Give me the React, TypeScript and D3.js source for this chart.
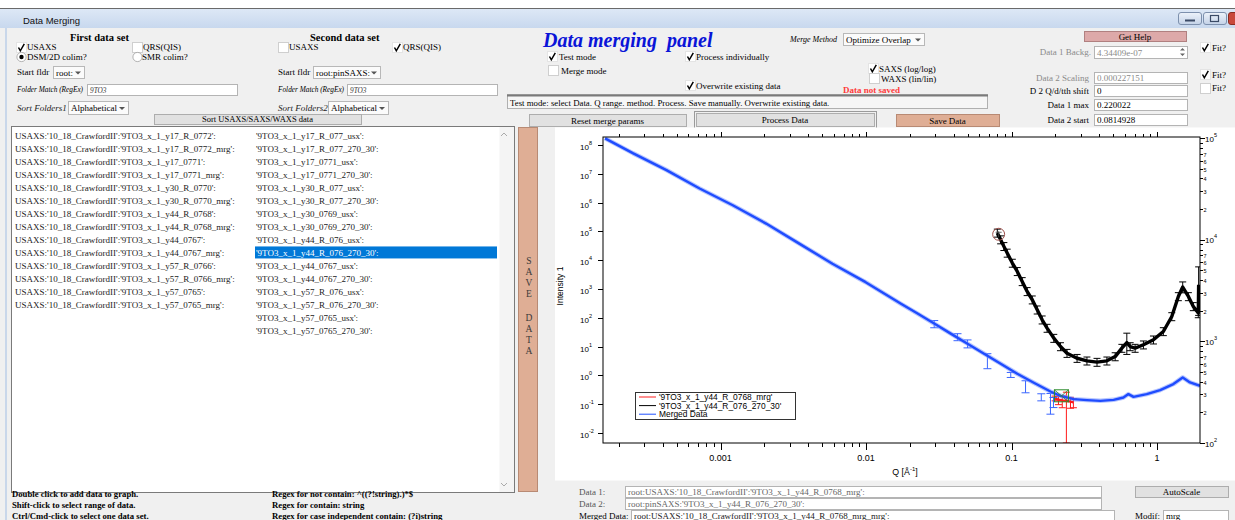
import React from 'react';
import * as d3 from 'd3';

const SERIF = "'Liberation Serif','Times New Roman',serif";
const SANS = "'Liberation Sans',Arial,sans-serif";

// ---------------- data ----------------
const list1 = [
  "USAXS:'10_18_CrawfordII':'9TO3_x_1_y17_R_0772':",
  "USAXS:'10_18_CrawfordII':'9TO3_x_1_y17_R_0772_mrg':",
  "USAXS:'10_18_CrawfordII':'9TO3_x_1_y17_0771':",
  "USAXS:'10_18_CrawfordII':'9TO3_x_1_y17_0771_mrg':",
  "USAXS:'10_18_CrawfordII':'9TO3_x_1_y30_R_0770':",
  "USAXS:'10_18_CrawfordII':'9TO3_x_1_y30_R_0770_mrg':",
  "USAXS:'10_18_CrawfordII':'9TO3_x_1_y44_R_0768':",
  "USAXS:'10_18_CrawfordII':'9TO3_x_1_y44_R_0768_mrg':",
  "USAXS:'10_18_CrawfordII':'9TO3_x_1_y44_0767':",
  "USAXS:'10_18_CrawfordII':'9TO3_x_1_y44_0767_mrg':",
  "USAXS:'10_18_CrawfordII':'9TO3_x_1_y57_R_0766':",
  "USAXS:'10_18_CrawfordII':'9TO3_x_1_y57_R_0766_mrg':",
  "USAXS:'10_18_CrawfordII':'9TO3_x_1_y57_0765':",
  "USAXS:'10_18_CrawfordII':'9TO3_x_1_y57_0765_mrg':",
];
const list2 = [
  "'9TO3_x_1_y17_R_077_usx':",
  "'9TO3_x_1_y17_R_077_270_30':",
  "'9TO3_x_1_y17_0771_usx':",
  "'9TO3_x_1_y17_0771_270_30':",
  "'9TO3_x_1_y30_R_077_usx':",
  "'9TO3_x_1_y30_R_077_270_30':",
  "'9TO3_x_1_y30_0769_usx':",
  "'9TO3_x_1_y30_0769_270_30':",
  "'9TO3_x_1_y44_R_076_usx':",
  "'9TO3_x_1_y44_R_076_270_30':",
  "'9TO3_x_1_y44_0767_usx':",
  "'9TO3_x_1_y44_0767_270_30':",
  "'9TO3_x_1_y57_R_076_usx':",
  "'9TO3_x_1_y57_R_076_270_30':",
  "'9TO3_x_1_y57_0765_usx':",
  "'9TO3_x_1_y57_0765_270_30':",
];
const selected2 = 9;

const helpLeft = [
  "Double click to add data to graph.",
  "Shift-click to select range of data.",
  "Ctrl/Cmd-click to select one data set.",
];
const helpRight = [
  "Regex for not contain: ^((?!string).)*$",
  "Regex for contain:  string",
  "Regex for case independent contain:  (?i)string",
];

// merged data (blue, left axis)
const mergedQ = [1.607e-4, 2.512e-4, 4.246e-4, 7.178e-4, 1.213e-3, 2.056e-3, 3.475e-3, 5.875e-3, 9.931e-3, 0.01738, 0.02259, 0.02938, 0.03819, 0.04977, 0.06471, 0.08414, 0.1094, 0.1422, 0.1849, 0.2168, 0.2673, 0.3296, 0.4074, 0.5023, 0.5875, 0.6353, 0.6887, 0.8492, 1.05, 1.294, 1.5, 1.683, 1.972];
const mergedI = [1.71e8, 5.14e7, 1.35e7, 3.1e6, 8.11e5, 1.87e5, 3.76e4, 7551, 1726, 304.8, 140, 62.8, 28.1, 12.6, 5.66, 2.54, 1.14, 0.552, 0.275, 0.195, 0.149, 0.138, 0.13, 0.141, 0.17, 0.223, 0.179, 0.223, 0.308, 0.498, 0.845, 0.566, 0.435];
const mergedErrQ = [0.0294, 0.0425, 0.0498, 0.0682, 0.0987, 0.1247, 0.16, 0.185, 0.194];
const mergedErrLo = [45, 16, 9, 1.7, 0.845, 0.248, 0.13, 0.0448, 0.076];
const mergedErrHi = [80, 28, 17, 5.66, 1.26, 0.649, 0.229, 0.234, 0.17];

// data 1 (red, left axis)
const data1Q = [0.199, 0.21, 0.223, 0.238, 0.254, 0.266];
const data1I = [0.16, 0.141, 0.135, 0.132, 0.122, 0.115];
const data1Err = [0.03, 0.045, 0.06, 0.128, 0.05, 0.04];

// data 2 (black, right axis)
const data2Q = [0.0798, 0.0841, 0.0885, 0.0933, 0.1012, 0.1094, 0.1183, 0.1279, 0.1387, 0.15, 0.1622, 0.1754, 0.195, 0.2168, 0.2404, 0.2818, 0.3296, 0.3864, 0.4519, 0.5152, 0.5728, 0.6194, 0.6531, 0.7063, 0.8054, 0.9441, 1.104, 1.262, 1.4, 1.5, 1.641, 1.774, 1.919, 1.93];
const data2I = [11640, 10000, 8590, 7396, 5888, 4875, 3882, 3097, 2564, 2042, 1629, 1349, 1074, 889, 764, 682, 643, 624, 643, 708, 857, 973, 889, 857, 925, 1035, 1250, 1754, 2761, 3420, 2761, 2203, 1897, 3600];
const data2Err = [1050, 900, 770, 670, 530, 440, 350, 280, 230, 185, 147, 121, 97, 80, 69, 61, 58, 56, 58, 64, 77, 230, 80, 77, 83, 93, 112, 158, 250, 420, 250, 200, 190, 1800];

// cursors (A on data 2 start, B on data 1 max)
const cursorAQ = 0.0814928;
const cursorAI = 11300;
const cursorBQ = 0.220022;
const cursorBI = 0.195;

const legendNames = ["'9TO3_x_1_y44_R_0768_mrg'", "'9TO3_x_1_y44_R_076_270_30'", "Merged Data"];
const legendColors = ['#ff2020', '#000000', '#2050ff'];

const xTickValues = [0.001, 0.01, 0.1, 1];
const xTickLabels = ['0.001', '0.01', '0.1', '1'];
const leftExps = [-2, -1, 0, 1, 2, 3, 4, 5, 6, 7, 8];
const rightExps = [2, 3, 4, 5];

const xDomain = [1.556e-4, 1.972];
const yLeftDomain = [4.467e-3, 1.905e8];
const yRightDomain = [100, 1.023e5];

// ---------------- helpers ----------------
const T = ({ x, y, s = 9, b = false, it = false, c = '#000', a = 'start', f = SERIF, children }: any) => (
  <text x={x} y={y} dy="0.35em" fontSize={s} fontWeight={b ? 'bold' : 'normal'} fontStyle={it ? 'italic' : 'normal'}
    fill={c} textAnchor={a} fontFamily={f}>{children}</text>
);

const Check = ({ x, y, on }: any) => (
  <g>
    <rect x={x + 0.5} y={y + 0.5} width={10} height={10} fill="#fff" stroke={on ? '#e4e4e4' : '#cfcfcf'} />
    {on && <path d={`M${x + 2.5} ${y + 5.5} L${x + 4.3} ${y + 8.8} L${x + 8.3} ${y + 1.8}`} fill="none" stroke="#000" strokeWidth={1.5} />}
  </g>
);

const Radio = ({ cx, cy, on }: any) => (
  <g>
    <circle cx={cx} cy={cy} r={4.6} fill="#fff" stroke="#a0a0a0" strokeWidth={0.8} />
    {on && <circle cx={cx} cy={cy} r={2.2} fill="#000" />}
  </g>
);

const Drop = ({ x, y, w, h = 12, text }: any) => (
  <g>
    <rect x={x + 0.5} y={y + 0.5} width={w} height={h} fill="#fbfbfb" stroke="#b8b8b8" />
    <T x={x + 3} y={y + h / 2 + 0.5}>{text}</T>
    <path d={`M${x + w - 9} ${y + h / 2 - 0.5} h6 l-3 3 z`} fill="#555" />
  </g>
);

const Box = ({ x, y, w, h, text, c = '#000', s = 9, it = false }: any) => (
  <g>
    <rect x={x + 0.5} y={y + 0.5} width={w} height={h} fill="#fff" stroke="#b4b4b4" />
    <T x={x + 3} y={y + h / 2 + 0.5} c={c} s={s} it={it}>{text}</T>
  </g>
);

const Btn = ({ x, y, w, h, text, fill = '#e1e1e1', stroke = '#adadad', dotted = false, s = 9 }: any) => (
  <g>
    <rect x={x + 0.5} y={y + 0.5} width={w} height={h} fill={fill} stroke={stroke} />
    {dotted && <rect x={x - 1.5} y={y - 1.5} width={w + 4} height={h + 4} fill="none" stroke="#444" strokeDasharray="1,1" />}
    <T x={x + w / 2} y={y + h / 2 + 0.5} a="middle" s={s}>{text}</T>
  </g>
);

const isMajor = (v: number) => Math.abs(Math.log10(v) - Math.round(Math.log10(v))) < 1e-6;

export default function App() {
  const x = d3.scaleLog().domain(xDomain).range([603, 1200]);
  const yL = d3.scaleLog().domain(yLeftDomain).range([443, 137]);
  const yR = d3.scaleLog().domain(yRightDomain).range([443, 137]);
  const clampY = (v: number) => Math.max(137, Math.min(443, v));
  const yLs = (v: number) => (v <= 0 ? 443 : clampY(yL(v)));
  const yRs = (v: number) => (v <= 0 ? 443 : clampY(yR(v)));

  const line = d3.line<[number, number]>().x(d => d[0]).y(d => d[1]);
  const mergedPath = line(mergedQ.map((q, i) => [x(q), yL(mergedI[i])]))!;
  const data1Path = line(data1Q.map((q, i) => [x(q), yL(data1I[i])]))!;
  const data2Path = line(data2Q.map((q, i) => [x(q), yR(data2I[i])]))!;

  const xTicks = x.ticks();
  const rTicks = yR.ticks();

  const rowY = (i: number) => 135.5 + i * 13.05;

  return (
    <svg width={1235} height={520} style={{ position: 'absolute', left: 0, top: 0, display: 'block' }}
      xmlns="http://www.w3.org/2000/svg">
      <defs>
        <linearGradient id="tb" x1="0" y1="0" x2="0" y2="1">
          <stop offset="0" stopColor="#dde8f6" />
          <stop offset="1" stopColor="#c8d8ee" />
        </linearGradient>
        <linearGradient id="wb" x1="0" y1="0" x2="0" y2="1">
          <stop offset="0" stopColor="#eef3fa" />
          <stop offset="1" stopColor="#c3d2e8" />
        </linearGradient>
        <clipPath id="plotclip"><rect x={603} y={137} width={597} height={306} /></clipPath>
      </defs>

      {/* page + window */}
      <rect x={0} y={0} width={1235} height={520} fill="#ffffff" />
      <rect x={0} y={9} width={1235} height={19} fill="url(#tb)" />
      <line x1={0} y1={8.5} x2={1235} y2={8.5} stroke="#6a6a6a" />
      <T x={23} y={21} s={9.5} f={SANS} c="#111">Data Merging</T>
      <rect x={1178.5} y={12.5} width={23} height={12} rx={2.5} fill="url(#wb)" stroke="#7d90ad" />
      <rect x={1185} y={19.5} width={10} height={2} fill="#3a4a66" />
      <rect x={1203.5} y={12.5} width={23} height={12} rx={2.5} fill="url(#wb)" stroke="#7d90ad" />
      <rect x={1210.5} y={15.5} width={8} height={6} fill="none" stroke="#3a4a66" strokeWidth={1.2} />
      <rect x={1228.5} y={12.5} width={14} height={12} rx={2.5} fill="#c9483b" stroke="#8a2c22" />

      <rect x={0} y={28} width={1235} height={492} fill="#f0f0f0" />
      <line x1={6} y1={28} x2={6} y2={520} stroke="#c9d7ea" strokeWidth={2} />

      {/* ---- first data set ---- */}
      <T x={70} y={37} s={10.5} b>First data set</T>
      <Check x={16} y={42} on />
      <T x={27} y={47}>USAXS</T>
      <Check x={132} y={42} on={false} />
      <T x={143} y={47}>QRS(QIS)</T>
      <Radio cx={21.5} cy={57} on />
      <T x={27} y={57}>DSM/2D colim?</T>
      <Radio cx={137.5} cy={57} on={false} />
      <T x={142} y={57}>SMR colim?</T>
      <T x={17} y={72}>Start fldr</T>
      <Drop x={53} y={66} w={31} text="root:" />
      <T x={17} y={89.5} s={7.3} it>Folder Match (RegEx)</T>
      <Box x={87} y={84} w={150} h={11} text="9TO3" s={7.3} it c="#333" />
      <T x={17} y={108} it c="#222">Sort Folders1</T>
      <Drop x={68} y={101} w={60} h={13} text="Alphabetical" />

      {/* ---- second data set ---- */}
      <T x={310} y={37} s={10.5} b>Second data set</T>
      <Check x={278} y={42} on={false} />
      <T x={289} y={47}>USAXS</T>
      <Check x={392} y={42} on />
      <T x={403} y={47}>QRS(QIS)</T>
      <T x={278} y={72}>Start fldr</T>
      <Drop x={313} y={66} w={67} text="root:pinSAXS:" />
      <T x={278} y={89.5} s={7.3} it>Folder Match (RegEx)</T>
      <Box x={347} y={84} w={150} h={11} text="9TO3" s={7.3} it c="#333" />
      <T x={278} y={108} it c="#222">Sort Folders2</T>
      <Drop x={328} y={101} w={60} h={13} text="Alphabetical" />

      <Btn x={154} y={114} w={207} h={10} text="Sort USAXS/SAXS/WAXS data" s={8.5} />

      {/* ---- list box ---- */}
      <rect x={11.5} y={126.5} width={503} height={366} fill="#fff" stroke="#7a7a7a" />
      <rect x={499.5} y={127} width={14.5} height={365} fill="#f4f4f4" />
      <path d="M501 136 l3 -3 l3 3" fill="none" stroke="#aaa" />
      <path d="M501 483 l3 3 l3 -3" fill="none" stroke="#aaa" />
      {list1.map((s, i) => <T key={'l1' + i} x={15} y={rowY(i)} c="#1a1a1a">{s}</T>)}
      <rect x={255} y={rowY(selected2) - 6.5} width={242} height={12} fill="#0078d7" />
      {list2.map((s, i) => <T key={'l2' + i} x={256} y={rowY(i)} c={i === selected2 ? '#fff' : '#1a1a1a'}>{s}</T>)}

      {helpLeft.map((s, i) => <T key={'hl' + i} x={12} y={494 + i * 11} b s={8.7}>{s}</T>)}
      {helpRight.map((s, i) => <T key={'hr' + i} x={272} y={494 + i * 11} b s={8.7}>{s}</T>)}

      {/* ---- vertical save bar ---- */}
      <rect x={518.5} y={127.5} width={19} height={364} fill="#dfae95" stroke="#b88a74" />
      {['S', 'A', 'V', 'E'].map((ch, i) => <T key={'s' + i} x={529} y={261 + i * 11} a="middle" s={9.5} c="#3a3a3a">{ch}</T>)}
      {['D', 'A', 'T', 'A'].map((ch, i) => <T key={'d' + i} x={529} y={318 + i * 11} a="middle" s={9.5} c="#3a3a3a">{ch}</T>)}

      {/* ---- centre controls ---- */}
      <text x={543} y={47} fontSize={20} fontWeight="bold" fontStyle="italic" fill="#0a14d8" fontFamily={SERIF}>{'Data merging\u00a0 panel'}</text>
      <Check x={547} y={51} on />
      <T x={559} y={56.5}>Test mode</T>
      <Check x={548} y={65} on={false} />
      <T x={561} y={71}>Merge mode</T>
      <Check x={685} y={51} on />
      <T x={696} y={56.5}>Process individually</T>
      <Check x={685} y={80} on />
      <T x={696} y={85.5}>Overwrite existing data</T>
      <T x={790} y={39.5} s={8} it>Merge Method</T>
      <Drop x={843} y={33} w={81} text="Optimize Overlap" />
      <Check x={868} y={63} on />
      <T x={879} y={69}>SAXS (log/log)</T>
      <Check x={869} y={73} on={false} />
      <T x={881} y={78.5}>WAXS (lin/lin)</T>
      <T x={843} y={90} b c="#ff3a3a">Data not saved</T>
      <rect x={507.5} y={94.5} width={480} height={14} fill="#f6f6f6" stroke="#b0b0b0" />
      <line x1={507} y1={95.5} x2={988} y2={95.5} stroke="#7a7a7a" strokeWidth={2} />
      <T x={510} y={102.5} s={8.8}>Test mode: select Data. Q range. method. Process. Save manually. Overwrite existing data.</T>
      <Btn x={529} y={114} w={157} h={12} text="Reset merge params" />
      <Btn x={696} y={113} w={178} h={13} text="Process Data" dotted />
      <Btn x={896} y={114} w={103} h={12} text="Save Data" fill="#dfae95" stroke="#b88a74" />

      {/* ---- right controls ---- */}
      <Btn x={1084} y={31} w={102} h={10} text="Get Help" fill="#dda9a9" stroke="#b08080" />
      <T x={1091} y={52} a="end" c="#8a8a8a">Data 1 Backg.</T>
      <Box x={1094} y={46} w={93} h={12} text="4.34409e-07" c="#8a8a8a" />
      <path d="M1180 50.5 l2.5 -2.5 l2.5 2.5 z M1180 53.5 l2.5 2.5 l2.5 -2.5 z" fill="#666" />
      <Check x={1200} y={42} on />
      <T x={1212} y={48}>Fit?</T>
      <T x={1089} y={78} a="end" c="#8a8a8a">Data 2 Scaling</T>
      <Box x={1094} y={72} w={93} h={11} text="0.000227151" c="#8a8a8a" />
      <Check x={1200} y={69} on />
      <T x={1212} y={75}>Fit?</T>
      <T x={1089} y={91} a="end">D 2 Q/d/tth shift</T>
      <Box x={1094} y={85} w={93} h={11} text="0" />
      <Check x={1200} y={83} on={false} />
      <T x={1212} y={88}>Fit?</T>
      <T x={1089} y={104.5} a="end">Data 1 max</T>
      <Box x={1094} y={99} w={93} h={11} text="0.220022" />
      <T x={1089} y={119.5} a="end">Data 2 start</T>
      <Box x={1094} y={114} w={93} h={11} text="0.0814928" />

      {/* ---- graph ---- */}
      <rect x={555} y={127.5} width={680} height={353} fill="#fff" />

      <g clipPath="url(#plotclip)">
        {/* data 2 black */}
        <path d={data2Path} fill="none" stroke="#000" strokeWidth={3.4} strokeLinejoin="round" />
        {data2Q.map((q, i) => {
          const xx = x(q), y1 = yRs(data2I[i] + data2Err[i]), y2 = yRs(data2I[i] - data2Err[i]);
          return <g key={'e2' + i} stroke="#000" strokeWidth={1}>
            <line x1={xx} x2={xx} y1={y1} y2={y2} />
            <line x1={xx - 3.5} x2={xx + 3.5} y1={y1} y2={y1} />
            <line x1={xx - 3.5} x2={xx + 3.5} y1={y2} y2={y2} />
          </g>;
        })}
        {/* data 1 red */}
        {data1Q.map((q, i) => {
          const xx = x(q), y1 = yLs(data1I[i] + data1Err[i]), y2 = yLs(data1I[i] - data1Err[i]);
          return <g key={'e1' + i} stroke="#ff1a1a" strokeWidth={1}>
            <line x1={xx} x2={xx} y1={y1} y2={y2} />
            <line x1={xx - 3.5} x2={xx + 3.5} y1={y1} y2={y1} />
            <line x1={xx - 3.5} x2={xx + 3.5} y1={y2} y2={y2} />
          </g>;
        })}
        <path d={data1Path} fill="none" stroke="#ff1a1a" strokeWidth={2.5} />
        {/* merged blue */}
        {mergedErrQ.map((q, i) => {
          const xx = x(q), y1 = yLs(mergedErrHi[i]), y2 = yLs(mergedErrLo[i]);
          return <g key={'em' + i} stroke="#3a66ff" strokeWidth={1}>
            <line x1={xx} x2={xx} y1={y1} y2={y2} />
            <line x1={xx - 4} x2={xx + 4} y1={y1} y2={y1} />
            <line x1={xx - 4} x2={xx + 4} y1={y2} y2={y2} />
          </g>;
        })}
        <path d={mergedPath} fill="none" stroke="#7c98ff" strokeOpacity={0.55} strokeWidth={4.5} strokeLinejoin="round" />
        <path d={mergedPath} fill="none" stroke="#1f4cff" strokeWidth={2.4} strokeLinejoin="round" />
        {/* cursors */}
        <circle cx={x(cursorAQ)} cy={yR(cursorAI)} r={6} fill="none" stroke="#a0524e" strokeWidth={1} />
        <path d={`M${x(cursorAQ) - 3} ${yR(cursorAI) - 2} h6 M${x(cursorAQ)} ${yR(cursorAI) - 3} v6`} stroke="#444" strokeWidth={0.8} />
        <rect x={x(cursorBQ) - 7} y={yL(cursorBI) - 6} width={14} height={12} fill="none" stroke="#2a8a2a" strokeWidth={1} />
        <path d={`M${x(cursorBQ) - 7} ${yL(cursorBI) - 6} L${x(cursorBQ) + 7} ${yL(cursorBI) + 6} M${x(cursorBQ) + 7} ${yL(cursorBI) - 6} L${x(cursorBQ) - 1} ${yL(cursorBI) + 1}`} stroke="#2a8a2a" strokeWidth={0.8} />
      </g>

      {/* frame */}
      <rect x={603} y={137} width={597} height={306} fill="none" stroke="#000" strokeWidth={1} />

      {/* bottom & top ticks */}
      {xTicks.map((v, i) => {
        const xx = Math.round(x(v)) + 0.5;
        const maj = isMajor(v);
        return <g key={'xt' + i} stroke="#000">
          <line x1={xx} x2={xx} y1={443} y2={443 + (maj ? 7 : 4)} />
          <line x1={xx} x2={xx} y1={137} y2={137 - (maj ? 5 : 3)} />
        </g>;
      })}
      {xTickValues.map((v, i) => <T key={'xl' + i} x={x(v)} y={458} a="middle" f={SANS} s={9}>{xTickLabels[i]}</T>)}
      <text x={905} y={475} textAnchor="middle" fontFamily={SANS} fontSize={8.8}>Q [Å<tspan dy={-4} fontSize={6}>-1</tspan><tspan dy={4}>]</tspan></text>

      {/* left axis */}
      {leftExps.map(e => {
        const yy = Math.round(yL(Math.pow(10, e))) + 0.5;
        return <g key={'yl' + e}>
          <line x1={598} x2={603} y1={yy} y2={yy} stroke="#000" />
          <text x={580} y={yy + 4} fontFamily={SANS} fontSize={8}>10<tspan dy={-5} fontSize={5.5}>{e}</tspan></text>
        </g>;
      })}
      <text transform="translate(563,286) rotate(-90)" textAnchor="middle" fontFamily={SANS} fontSize={8.5}>Intensity 1</text>

      {/* right axis */}
      {rTicks.map((v, i) => {
        const yy = Math.round(yR(v)) + 0.5;
        const maj = isMajor(v);
        const k = Math.round(v / Math.pow(10, Math.floor(Math.log10(v) + 1e-9)));
        return <g key={'yr' + i}>
          <line x1={1200} x2={1200 + (maj ? 5 : 3)} y1={yy} y2={yy} stroke="#000" />
          {!maj && k <= 7 && <text x={1203.5} y={yy + 2} fontFamily={SANS} fontSize={5.5}>{k}</text>}
        </g>;
      })}
      {rightExps.map(e => {
        const yy = yR(Math.pow(10, e));
        return <text key={'rl' + e} x={1205} y={yy + 3.5} fontFamily={SANS} fontSize={8}>10<tspan dy={-5} fontSize={5.5}>{e}</tspan></text>;
      })}

      {/* legend */}
      <rect x={635.5} y={392.5} width={160} height={27} fill="#fff" stroke="#333" />
      {legendNames.map((n, i) => {
        const yy = 397 + i * 8.6;
        return <g key={'lg' + i}>
          <line x1={639} x2={656} y1={yy} y2={yy} stroke={legendColors[i]} strokeWidth={1} />
          <T x={659} y={yy} f={SANS} s={8.4}>{n}</T>
        </g>;
      })}

      {/* ---- bottom panel ---- */}
      <T x={579} y={492} c="#555">Data 1:</T>
      <Box x={625} y={486} w={476} h={11} text="root:USAXS:'10_18_CrawfordII':'9TO3_x_1_y44_R_0768_mrg':" c="#666" />
      <T x={579} y={504} c="#555">Data 2:</T>
      <Box x={625} y={498} w={476} h={11} text="root:pinSAXS:'9TO3_x_1_y44_R_076_270_30':" c="#666" />
      <T x={579} y={515.5}>Merged Data:</T>
      <Box x={631} y={510} w={483} h={10} text="root:USAXS:'10_18_CrawfordII':'9TO3_x_1_y44_R_0768_mrg_mrg':" c="#222" />
      <Btn x={1135} y={486} w={93} h={11} text="AutoScale" />
      <T x={1135} y={515.5}>Modif:</T>
      <Box x={1163} y={510} w={65} h={10} text="mrg" />
    </svg>
  );
}
